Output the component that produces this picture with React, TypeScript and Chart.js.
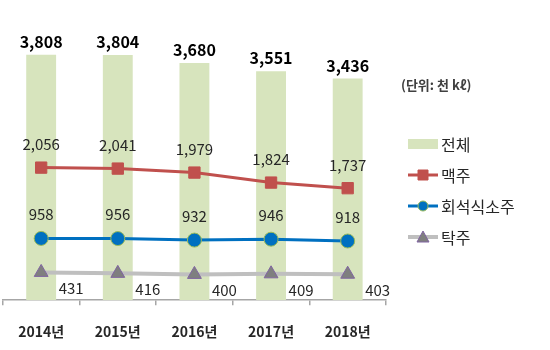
import React, { useEffect, useRef } from "react";
import { Chart, registerables } from "chart.js";

Chart.register(...registerables);

const categories = ["2014년", "2015년", "2016년", "2017년", "2018년"];
const totalValues = [3808, 3804, 3680, 3551, 3436];
const beerValues = [2056, 2041, 1979, 1824, 1737];
const sojuValues = [958, 956, 932, 946, 918];
const takjuValues = [431, 416, 400, 409, 403];
const seriesNames = ["전체", "맥주", "회석식소주", "탁주"];
const unitLabel = "(단위: 천 kℓ)";

const FONT = "'Noto Sans CJK KR', 'Noto Sans', sans-serif";

const fmt = (v: number) => v.toLocaleString("en-US");

const labelPlugin = {
  id: "valueLabels",
  afterDatasetsDraw(chart: any) {
    const ctx = chart.ctx;
    ctx.save();
    chart.data.datasets.forEach((ds: any, i: number) => {
      const meta = chart.getDatasetMeta(i);
      const lab = ds.labelStyle;
      meta.data.forEach((el: any, j: number) => {
        const v = ds.data[j];
        const x = el.x + lab.dx;
        const y = el.y + lab.dy;
        ctx.font = `${lab.weight} ${lab.size}px ${FONT}`;
        ctx.fillStyle = lab.color;
        ctx.textAlign = "center";
        ctx.textBaseline = "middle";
        ctx.fillText(fmt(v), x, y);
      });
    });
    ctx.restore();
  },
};

const legendPlugin = {
  id: "customLegend",
  afterDraw(chart: any) {
    const ctx = chart.ctx;
    ctx.save();
    ctx.font = `bold 13px ${FONT}`;
    ctx.fillStyle = "#404040";
    ctx.textAlign = "left";
    ctx.textBaseline = "middle";
    ctx.fillText(unitLabel, 401, 85);

    const x0 = 408;
    const x1 = 438;
    const ys = [144, 175, 206, 237];
    const dsets = chart.data.datasets;
    ctx.fillStyle = dsets[0].backgroundColor;
    ctx.fillRect(x0, ys[0] - 5, x1 - x0, 10);
    for (let k = 1; k < 4; k++) {
      const d = dsets[k];
      const y = ys[k];
      ctx.strokeStyle = d.borderColor;
      ctx.lineWidth = d.borderWidth;
      ctx.beginPath();
      ctx.moveTo(x0, y);
      ctx.lineTo(x1, y);
      ctx.stroke();
      const cx = (x0 + x1) / 2;
      ctx.fillStyle = d.pointBackgroundColor;
      ctx.strokeStyle = d.pointBorderColor;
      ctx.lineWidth = 1;
      ctx.beginPath();
      if (d.pointStyle === "rect") {
        ctx.rect(cx - 5, y - 5, 10, 10);
      } else if (d.pointStyle === "circle") {
        ctx.arc(cx, y, 5, 0, Math.PI * 2);
      } else {
        ctx.moveTo(cx, y - 6);
        ctx.lineTo(cx + 6, y + 5);
        ctx.lineTo(cx - 6, y + 5);
        ctx.closePath();
      }
      ctx.fill();
      ctx.stroke();
    }
    ctx.font = `16px ${FONT}`;
    ctx.fillStyle = "#262626";
    seriesNames.forEach((n, k) => ctx.fillText(n, 441, ys[k] + 1));
    ctx.restore();
  },
};

export default function App() {
  const ref = useRef<HTMLCanvasElement>(null);
  useEffect(() => {
    if (!ref.current) return;
    const chart = new Chart(ref.current, {
      type: "bar",
      data: {
        labels: categories,
        datasets: [
          {
            type: "bar",
            label: seriesNames[0],
            data: totalValues,
            backgroundColor: "#d7e4bd",
            barPercentage: 1,
            categoryPercentage: 0.39,
            order: 4,
            labelStyle: { dx: 0, dy: -13, size: 16, weight: "bold", color: "#000000" },
          } as any,
          {
            type: "line",
            label: seriesNames[1],
            data: beerValues,
            borderColor: "#c0504d",
            borderWidth: 3,
            pointStyle: "rect",
            pointRadius: 8,
            pointBackgroundColor: "#c0504d",
            pointBorderColor: "#c0504d",
            pointBorderWidth: 1,
            order: 1,
            labelStyle: { dx: 0, dy: -23, size: 15, weight: "normal", color: "#262626" },
          } as any,
          {
            type: "line",
            label: seriesNames[2],
            data: sojuValues,
            borderColor: "#0070c0",
            borderWidth: 3,
            pointStyle: "circle",
            pointRadius: 7,
            pointBackgroundColor: "#0070c0",
            pointBorderColor: "#9bbb59",
            pointBorderWidth: 1,
            order: 2,
            labelStyle: { dx: 0, dy: -24, size: 15, weight: "normal", color: "#262626" },
          } as any,
          {
            type: "line",
            label: seriesNames[3],
            data: takjuValues,
            borderColor: "#bfbfbf",
            borderWidth: 4,
            pointStyle: "triangle",
            pointRadius: 8,
            pointBackgroundColor: "#7f7f7f",
            pointBorderColor: "#8064a2",
            pointBorderWidth: 1,
            order: 3,
            labelStyle: { dx: 30, dy: 16, size: 15, weight: "normal", color: "#262626" },
          } as any,
        ],
      },
      options: {
        animation: false,
        responsive: false,
        layout: { autoPadding: false, padding: { top: 10, left: 2, right: 164, bottom: -8 } },
        plugins: {
          legend: { display: false },
          tooltip: { enabled: false },
        },
        scales: {
          x: {
            offset: true,
            grid: {
              offset: true,
              drawOnChartArea: false,
              drawTicks: true,
              tickLength: 5,
              color: "#a6a6a6",
              lineWidth: 1.5,
            },
            border: { display: true, color: "#a6a6a6", width: 1.5 },
            ticks: {
              padding: 18,
              color: "#262626",
              font: { family: FONT, size: 14, weight: "bold" },
            },
          },
          y: {
            display: false,
            min: 0,
            max: 4500,
          },
        },
      },
      plugins: [labelPlugin, legendPlugin],
    });
    return () => chart.destroy();
  }, []);
  return (
    <div style={{ position: "absolute", left: 0, top: 0, width: 550, height: 350, background: "#ffffff" }}>
      <canvas ref={ref} width={550} height={350} />
    </div>
  );
}
